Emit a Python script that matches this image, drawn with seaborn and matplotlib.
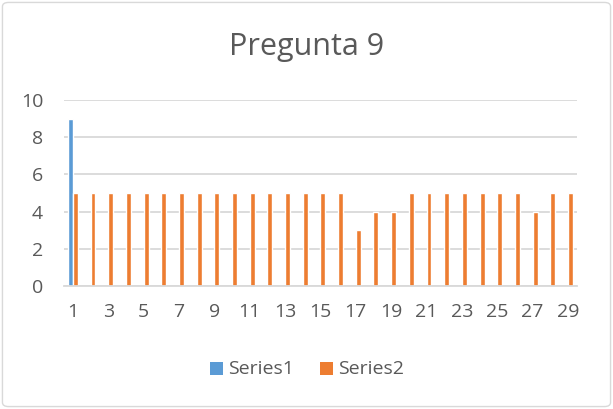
import numpy as np
import pandas as pd
import matplotlib
matplotlib.use('Agg')
import matplotlib.pyplot as plt
import seaborn as sns
from matplotlib.patches import FancyBboxPatch, Rectangle

# datos
categorias = list(range(1, 30))
serie1 = [9] + [np.nan] * 28
serie2 = [5, 5, 5, 5, 5, 5, 5, 5, 5, 5, 5, 5, 5, 5, 5, 5, 3, 4, 4, 5,
          5, 5, 5, 5, 5, 5, 4, 5, 5]
nombres = ['Series1', 'Series2']
colores = ['#5b9bd5', '#ed7d31']

df = pd.DataFrame({
    'cat': categorias * 2,
    'valor': serie1 + serie2,
    'serie': [nombres[0]] * 29 + [nombres[1]] * 29,
})

sns.set_style('white')
plt.rcParams['font.family'] = ['Open Sans', 'DejaVu Sans']
gris = '#595959'

fig = plt.figure(figsize=(6.13, 4.09), dpi=100)
ax = fig.add_axes([0.1044, 0.3007, 0.8366, 0.4548])

sns.barplot(data=df, x='cat', y='valor', hue='serie', palette=colores,
            width=0.56, dodge=True, saturation=1, ax=ax, legend=False)

ax.set_ylim(0, 10)
ax.set_yticks(np.arange(0, 11, 2))
ax.set_xlim(-0.5, 28.5)
ax.set_xticks(range(0, 29, 2))
ax.set_xticklabels([str(c) for c in categorias[::2]])
ax.set_xlabel('')
ax.set_ylabel('')
ax.grid(axis='y', color='#d9d9d9', lw=1.3)
ax.set_axisbelow(True)
for s in ['top', 'right', 'left']:
    ax.spines[s].set_visible(False)
ax.spines['bottom'].set_color('#d9d9d9')
ax.spines['bottom'].set_linewidth(1.3)
ax.tick_params(axis='both', length=0, labelsize=14, colors=gris)
ax.tick_params(axis='x', pad=12)
ax.tick_params(axis='y', pad=15)

fig.text(0.5, 0.884, 'Pregunta 9', ha='center', va='center',
         fontsize=22, color=gris)

# leyenda dibujada a mano (cuadros + texto), en pixeles
for x0, c, n in zip([210, 320], colores, nombres):
    fig.add_artist(Rectangle((x0, 34), 13, 13, transform=None,
                             facecolor=c, edgecolor='none', zorder=5))
    fig.text(x0 + 18, 40.5, n, ha='left', va='center', fontsize=14,
             color=gris, transform=None)

fig.patches.append(FancyBboxPatch((0.004, 0.006), 0.992, 0.988,
                                  boxstyle='round,pad=0,rounding_size=0.01',
                                  transform=fig.transFigure, fill=False,
                                  ec='#d9d9d9', lw=1))

plt.savefig('out.png', dpi=100)
